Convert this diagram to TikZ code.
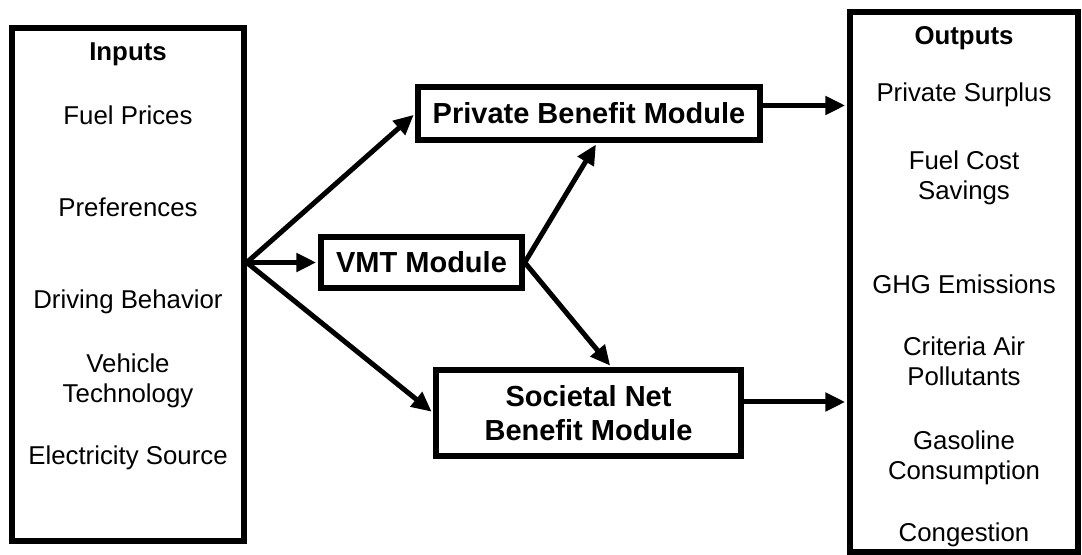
\documentclass[tikz,border=0pt]{standalone}
\usepackage{fontspec}
\setmainfont{Liberation Sans}
\usetikzlibrary{arrows.meta}

\begin{document}
\begin{tikzpicture}[x=0.5pt, y=-0.5pt,
  frame/.style={draw, line width=2.75pt, inner sep=0pt},
  module/.style={draw, line width=2.75pt, align=center, inner sep=0pt, font=\fontsize{14.5}{17}\selectfont\bfseries},
  item/.style={anchor=base, align=center, inner sep=0pt, font=\fontsize{12.9}{15}\selectfont},
  head/.style={item, font=\fontsize{12.9}{15}\selectfont\bfseries},
  flow/.style={-{Triangle[length=10pt,width=9pt]}, line width=2.5pt, shorten >=1pt}]
\useasboundingbox (0,0) rectangle (1082,555);
\node[frame, minimum width=116pt, minimum height=256.5pt] (inbox) at (128,284.5) {};
\node[frame, minimum width=114pt, minimum height=270pt] (outbox) at (964,282) {};
\node[module, minimum width=171pt, minimum height=26.5pt] (private) at (589,113.5) {Private Benefit Module};
\node[module, minimum width=100.5pt, minimum height=25.5pt] (vmt) at (421.5,262.5) {VMT Module};
\node[module, minimum width=152.5pt, minimum height=43pt] (societal) at (588.5,413) {Societal Net\\Benefit Module};

\node[head] (inhead) at (128,61) {Inputs};
\foreach \y/\txt [count=\i] in {125/Fuel Prices, 217/Preferences, 309/Driving Behavior,
  403/Vehicle\\Technology, 465/Electricity Source}
  \node[item] (in\i) at (128,\y) {\txt};

\node[head] (outhead) at (964,45) {Outputs};
\foreach \y/\txt [count=\i] in {102/Private Surplus, 200/Fuel Cost\\Savings, 294/GHG Emissions,
  386/Criteria Air\\Pollutants, 480/Gasoline\\Consumption, 542/Congestion}
  \node[item] (out\i) at (964,\y) {\txt};

\coordinate (fan) at (inbox.east |- vmt.west);
\coordinate (pout) at ([yshift=4pt]private.east);
\coordinate (sout) at ([yshift=5.5pt]societal.east);
\draw[flow] (fan) -- (private.west);
\draw[flow] (fan) -- (vmt.west);
\draw[flow] (fan) -- (societal.west);
\draw[flow] (vmt.east) -- ([xshift=4pt]private.south);
\draw[flow] (vmt.east) -- ([xshift=11.5pt]societal.north);
\draw[flow] (pout) -- (pout -| outbox.west);
\draw[flow] (sout) -- (sout -| outbox.west);
\end{tikzpicture}
\end{document}
